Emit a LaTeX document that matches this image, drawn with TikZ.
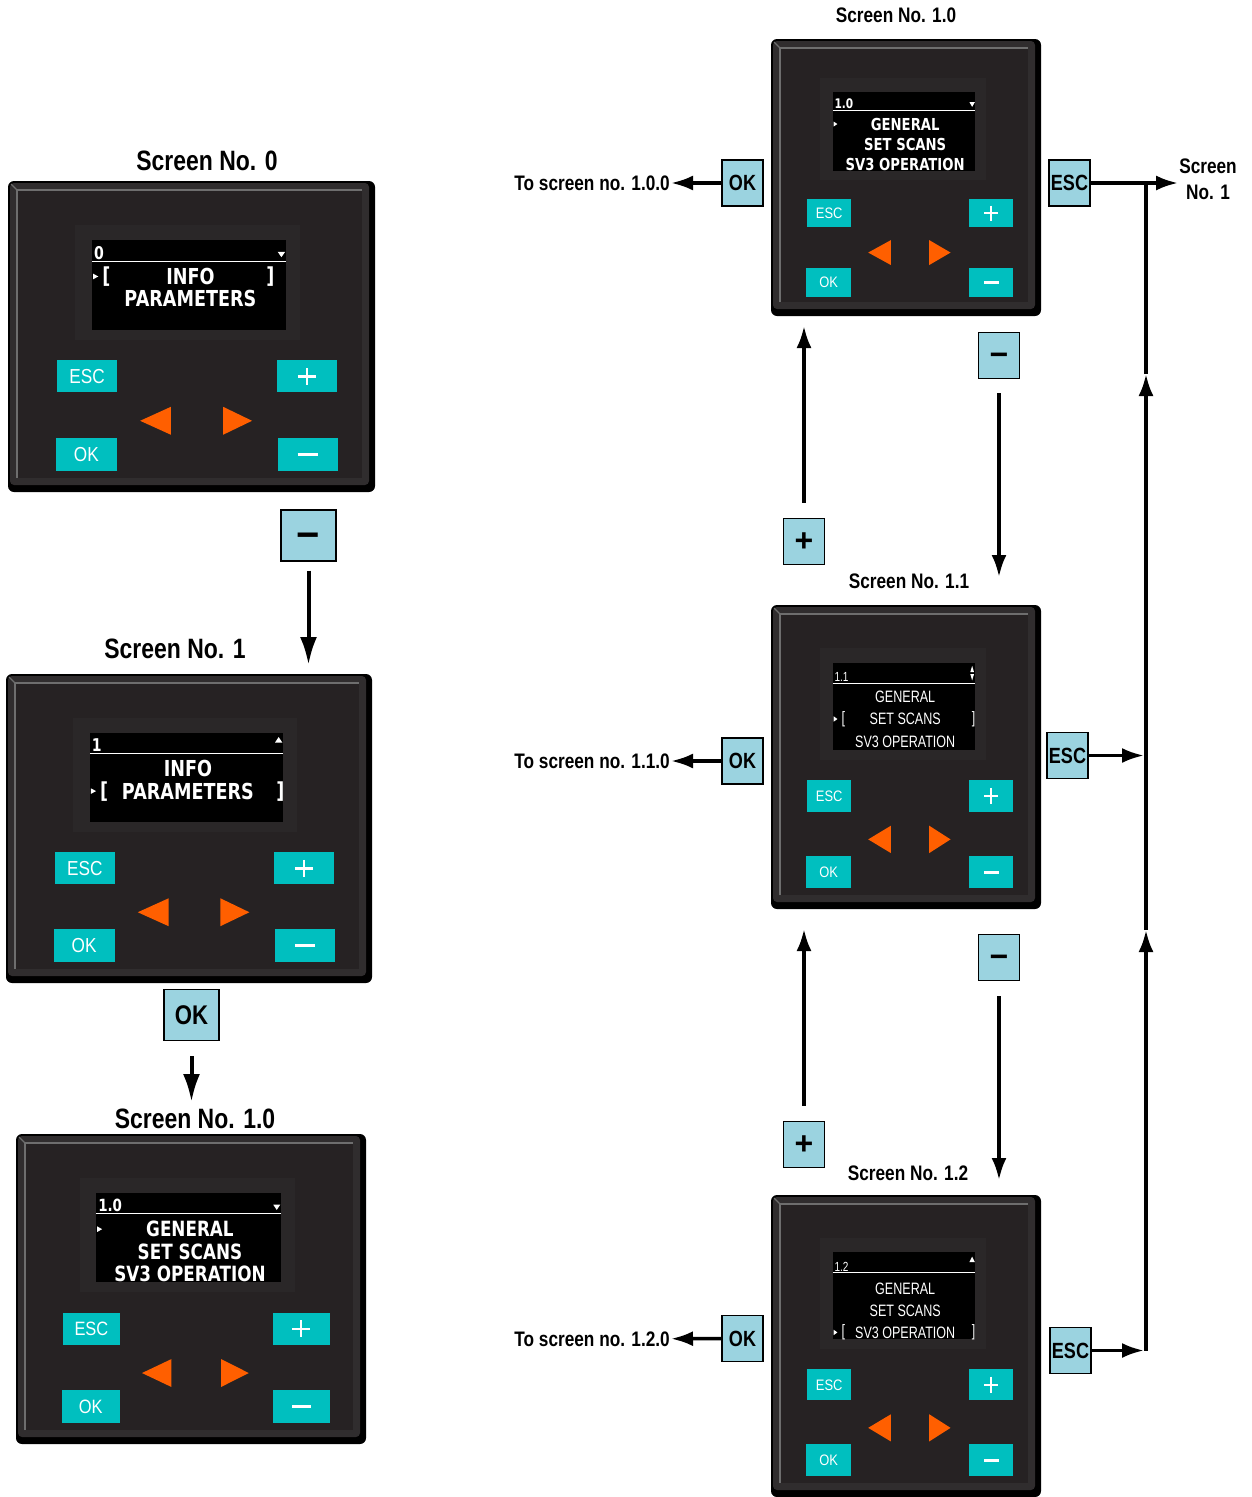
\documentclass[tikz,border=0pt]{standalone}
\usepackage{fontspec}
\setmainfont{Liberation Sans}
\newfontfamily\narrowfont[FakeStretch=0.82]{Liberation Sans}
\newfontfamily\lcdboldfam[FakeStretch=0.8]{DejaVu Sans}
\newfontfamily\lcdthin[FakeStretch=0.76]{Liberation Sans}
\newfontfamily\keyfont[FakeStretch=0.85]{Liberation Sans}
\newcommand{\lcdbold}{\lcdboldfam\bfseries}
\usetikzlibrary{arrows.meta,positioning,calc}

\definecolor{PanelBody}{HTML}{262223}
\definecolor{PanelBezel}{HTML}{2A2728}
\definecolor{PanelEdge}{HTML}{6E6E6E}
\definecolor{PanelShade}{HTML}{302D2E}
\definecolor{KeyTeal}{HTML}{00BFBF}
\definecolor{KeyOrange}{HTML}{FF5F00}
\definecolor{KeyBlue}{HTML}{9BD3E0}

\tikzset{
  title/.style={inner sep=1pt, font=\narrowfont\bfseries\fontsize{21}{26}\selectfont},
  bigtitle/.style={inner sep=1pt, font=\narrowfont\bfseries\fontsize{28}{30}\selectfont},
  keybox/.style={draw=black, line width=1.4pt, fill=KeyBlue, minimum width=41pt, minimum height=46pt,
    inner sep=0pt, font=\narrowfont\bfseries\fontsize{22}{22}\selectfont},
  signkey/.style={keybox, text height=20pt, text depth=0pt, font=\bfseries\fontsize{32}{32}\selectfont},
  bigkey/.style={keybox, minimum width=55pt, minimum height=51pt, font=\narrowfont\bfseries\fontsize{27}{27}\selectfont},
  bigsign/.style={bigkey, text height=25pt, text depth=0pt, font=\bfseries\fontsize{40}{40}\selectfont},
  flow/.style={line width=3.5pt, -{Latex[length=22pt,width=15pt]}},
  flowbig/.style={line width=4pt, -{Latex[length=28pt,width=17pt]}},
  devkey/.style={inner sep=0pt, text=white, font=\keyfont\fontsize{\tagsize}{\tagsize}\selectfont}
}

% one control panel: #1 name, #2 x, #3 y, #4 width, #5 height, #6 text size, #7 screen text
\newcommand{\devicepanel}[7]{%
  \begin{scope}[shift={(#2,#3)}, x=#4pt, y=-#5pt]
    \def\devname{#1}
    \pgfmathsetmacro{\lcdsize}{#6}
    \pgfmathsetmacro{\tagsize}{0.92*#6}
    \pgfmathsetmacro{\headsize}{0.8*#6}
    \coordinate (#1-n) at (0.5,0);
    \coordinate (#1-s) at (0.5,1);
    % housing
    \fill[black, rounded corners=6pt] (0,0) rectangle (1,1);
    \fill[PanelShade, rounded corners=4pt] ($(0,0)+(2pt,-2pt)$) rectangle ($(1,1)+(-6pt,7pt)$);
    \fill[PanelBody] ($(0,0)+(9pt,-9pt)$) rectangle ($(1,1)+(-13pt,14pt)$);
    \draw[PanelEdge, line width=1.6pt] ($(0,1)+(9pt,14pt)$) -- ($(0,0)+(9pt,-9pt)$) -- ($(1,0)+(-13pt,-9pt)$);
    \draw[PanelEdge, line width=1.2pt] ($(0,0)+(3pt,-3pt)$) -- ($(0,0)+(9pt,-9pt)$);
    % screen
    \fill[PanelBezel] (0.183,0.142) rectangle (0.796,0.51);
    \fill[black] (0.229,0.19) rectangle (0.757,0.478);
    \draw[white, line width=1pt] (0.229,0.258) -- (0.757,0.258);
    #7
    % keys
    \fill[KeyTeal] (0.134,0.577) rectangle (0.297,0.68);
    \fill[KeyTeal] (0.733,0.577) rectangle (0.896,0.68);
    \fill[KeyTeal] (0.130,0.826) rectangle (0.297,0.932);
    \fill[KeyTeal] (0.735,0.826) rectangle (0.898,0.932);
    \node[devkey] (#1-esc) at (0.2155,0.6285) {ESC};
    \node[devkey] (#1-ok) at (0.2135,0.879) {OK};
    \draw[white, line width=2.6pt] (0.7895,0.6285) -- (0.8395,0.6285) (0.8145,0.6015) -- (0.8145,0.6555);
    \draw[white, line width=2.6pt] (0.789,0.879) -- (0.844,0.879);
    \fill[KeyOrange] (0.36,0.771) -- (0.444,0.726) -- (0.444,0.816) -- cycle;
    \fill[KeyOrange] (0.665,0.771) -- (0.586,0.726) -- (0.586,0.816) -- cycle;
  \end{scope}}

\newcommand{\lcdhead}[2]{\node[anchor=south west, inner sep=0.5pt, text=white,
  font=#1\fontsize{\headsize}{\headsize}\selectfont] (\devname-head) at (0.233,0.254) {#2};}
\newcommand{\lcdrow}[4]{\node[inner sep=0pt, text=white,
  font=#3\fontsize{\lcdsize}{\lcdsize}\selectfont] (\devname-#1) at (0.497,#2) {#4};}
\newcommand{\lcdmark}[1]{\fill[white] (0.232,#1-0.009) -- (0.246,#1) -- (0.232,#1+0.009) -- cycle;}
\newcommand{\lcdsel}[3]{\lcdmark{#1}
  \node[inner sep=0pt, text=white, font=#2\fontsize{\lcdsize}{\lcdsize}\selectfont] (\devname-lb) at (0.268,#1) {[};
  \node[inner sep=0pt, text=white, font=#2\fontsize{\lcdsize}{\lcdsize}\selectfont] (\devname-rb) at (#3,#1) {]};}
\newcommand{\lcddown}{\fill[white] (0.735,0.228) -- (0.755,0.228) -- (0.745,0.245) -- cycle;}
\newcommand{\lcdup}{\fill[white] (0.735,0.222) -- (0.755,0.222) -- (0.745,0.204) -- cycle;}
\newcommand{\lcdupdown}{\fill[white] (0.738,0.221) -- (0.752,0.221) -- (0.745,0.2) -- cycle;
  \fill[white] (0.738,0.227) -- (0.752,0.227) -- (0.745,0.248) -- cycle;}

\begin{document}
\begin{tikzpicture}[x=1pt,y=-1pt]
\useasboundingbox (0,0) rectangle (1252,1497);

% left column
\node[bigtitle] (ttlZero) at (207,161) {Screen No. 0};
\devicepanel{scrZero}{8}{181}{367}{311}{22}{
  \lcdhead{\lcdbold}{0}\lcddown
  \lcdrow{r1}{0.307}{\lcdbold}{INFO}
  \lcdrow{r2}{0.379}{\lcdbold}{PARAMETERS}
  \lcdsel{0.307}{\lcdbold}{0.715}}
\node[bigsign] (minusZero) at (308.5,535.5) {−};

\node[bigtitle] (ttlOne) at (175,649) {Screen No. 1};
\devicepanel{scrOne}{6}{674}{366}{309}{22}{
  \lcdhead{\lcdbold}{1}\lcdup
  \lcdrow{r1}{0.307}{\lcdbold}{INFO}
  \lcdrow{r2}{0.379}{\lcdbold}{PARAMETERS}
  \lcdsel{0.379}{\lcdbold}{0.75}}
\node[bigkey] (okOne) at (191.5,1015) {OK};

\node[bigtitle] (ttlOneZero) at (195,1119) {Screen No. 1.0};
\devicepanel{scrOneZero}{16}{1134}{350}{310}{21}{
  \lcdhead{\lcdbold}{1.0}\lcddown
  \lcdrow{r1}{0.307}{\lcdbold}{GENERAL}
  \lcdrow{r2}{0.381}{\lcdbold}{SET SCANS}
  \lcdrow{r3}{0.452}{\lcdbold}{SV3 OPERATION}
  \lcdmark{0.307}}

\draw[flowbig, shorten <=9pt, shorten >=9pt] (minusZero.south) -- (minusZero.south |- scrOne-n);
\draw[flowbig, shorten <=15pt, shorten >=32pt] (okOne.south) -- (okOne.south |- scrOneZero-n);

% right column
\node[title] (ttlA) at (896,15) {Screen No. 1.0};
\devicepanel{scrA}{771}{39}{270}{277}{16.5}{
  \lcdhead{\lcdbold}{1.0}\lcddown
  \lcdrow{r1}{0.307}{\lcdbold}{GENERAL}
  \lcdrow{r2}{0.381}{\lcdbold}{SET SCANS}
  \lcdrow{r3}{0.452}{\lcdbold}{SV3 OPERATION}
  \lcdmark{0.307}}

\node[title] (ttlB) at (909,581) {Screen No. 1.1};
\devicepanel{scrB}{771}{605}{270}{304}{16.5}{
  \lcdhead{\lcdthin}{1.1}\lcdupdown
  \lcdrow{r1}{0.303}{\lcdthin}{GENERAL}
  \lcdrow{r2}{0.375}{\lcdthin}{SET SCANS}
  \lcdrow{r3}{0.45}{\lcdthin}{SV3 OPERATION}
  \lcdsel{0.375}{\lcdthin}{0.75}}

\node[title] (ttlC) at (908,1173) {Screen No. 1.2};
\devicepanel{scrC}{771}{1195}{270}{302}{16.5}{
  \lcdhead{\lcdthin}{1.2}\lcdup
  \lcdrow{r1}{0.31}{\lcdthin}{GENERAL}
  \lcdrow{r2}{0.382}{\lcdthin}{SET SCANS}
  \lcdrow{r3}{0.455}{\lcdthin}{SV3 OPERATION}
  \lcdsel{0.455}{\lcdthin}{0.75}}

% keys beside the panels
\node[keybox] (okA) at (742.5,183) {OK};
\node[keybox] (escA) at (1069.5,183) {ESC};
\node[signkey] (minusA) at (999,355.5) {−};
\node[signkey] (plusA) at (804,541.5) {+};
\node[keybox] (okB) at (742.5,761) {OK};
\node[keybox] (escB) at (1067.5,755.5) {ESC};
\node[signkey] (minusB) at (999,957.5) {−};
\node[signkey] (plusB) at (804,1144.5) {+};
\node[keybox] (okC) at (742.5,1338.5) {OK};
\node[keybox] (escC) at (1070.5,1350.5) {ESC};

\node[title, anchor=east] (toA) at (671,183) {To screen no. 1.0.0};
\node[title, anchor=east] (toB) at (671,761) {To screen no. 1.1.0};
\node[title, anchor=east] (toC) at (671,1339) {To screen no. 1.2.0};
\node[title, align=center] (backOne) at (1208,179) {Screen\\No. 1};

\draw[flow] (okA) -- (toA);
\draw[flow] (okB) -- (toB);
\draw[flow] (okC) -- (toC);

\draw[flow, shorten <=15pt, shorten >=10pt] (plusA.north) -- (plusA.north |- scrA-s);
\draw[flow, shorten <=15pt, shorten >=20pt] (plusB.north) -- (plusB.north |- scrB-s);
\draw[flow, shorten <=14pt, shorten >=28pt] (minusA.south) -- (minusA.south |- scrB-n);
\draw[flow, shorten <=15pt, shorten >=15pt] (minusB.south) -- (minusB.south |- scrC-n);

% ESC return line
\coordinate (trunk) at (1146,183);
\coordinate (trunkUp) at (1146,374);
\coordinate (trunkMid) at (1146,930);
\draw[flow] (escA.east) -- (escA.east -| backOne.west);
\draw[flow, shorten >=2pt] (escB.east) -- (escB.east -| trunk);
\draw[flow, shorten >=2pt] (escC.east) -- (escC.east -| trunk);
\draw[flow] (escC.east -| trunk) -- (trunkMid);
\draw[flow] (trunkMid) -- (trunkUp);
\draw[line width=3.5pt] (trunkUp) -- (trunk);
\end{tikzpicture}
\end{document}
